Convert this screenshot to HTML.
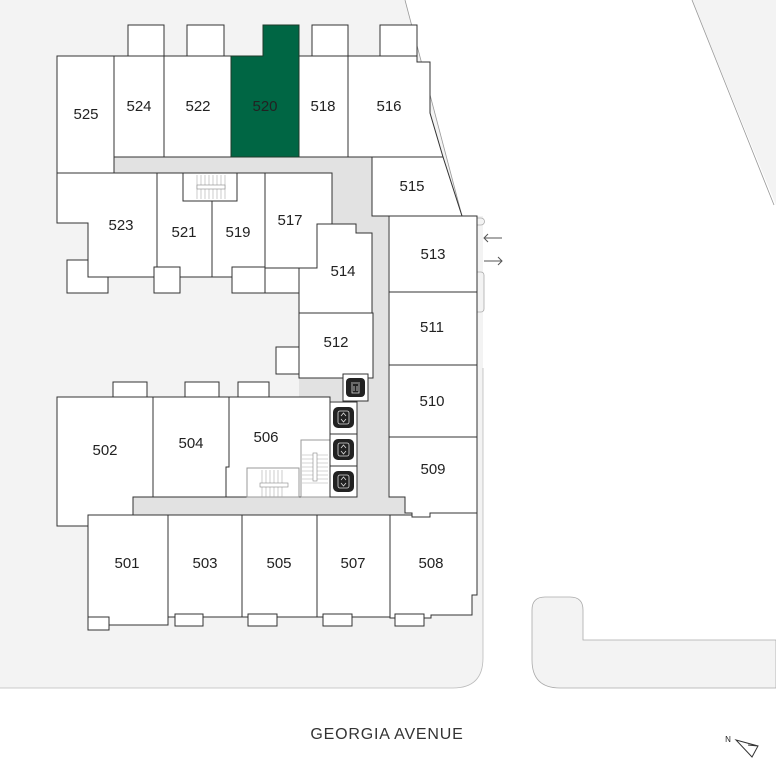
<!DOCTYPE html>
<html><head><meta charset="utf-8"><style>
html,body{margin:0;padding:0;background:#fff;}
svg{display:block;}
text{font-family:"Liberation Sans",sans-serif;font-size:15px;fill:#222;text-anchor:middle;}
</style></head><body>
<svg width="776" height="760" viewBox="0 0 776 760" xmlns="http://www.w3.org/2000/svg">
<!-- grounds -->
<path d="M0,0 H405 L462,216 H483 V658 Q483,688 453,688 H0 Z" fill="#f3f3f3"/>
<path d="M405,0 L462,216" stroke="#999" stroke-width="0.8" fill="none"/>
<path d="M483,368 V658 Q483,688 453,688 H0" stroke="#bbb" stroke-width="0.8" fill="none"/>
<path d="M692,0 H776 V205 Z" fill="#f3f3f3"/>
<path d="M692,0 L774,205" stroke="#999" stroke-width="0.8"/>
<path d="M776,640 H583 V610 Q583,597 570,597 H545 Q532,597 532,610 V660 Q532,688 560,688 H776 Z" fill="#f3f3f3" stroke="#aaa" stroke-width="0.8"/>
<path d="M477,218 h4 a3,3 0 0 1 0,7 h-4" fill="#f3f3f3" stroke="#aaa" stroke-width="0.8"/>
<path d="M477,272 h4 a3,3 0 0 1 3,3 v34 a3,3 0 0 1 -3,3 h-4" fill="#f3f3f3" stroke="#aaa" stroke-width="0.8"/>
<!-- arrows -->
<g stroke="#555" stroke-width="1" fill="none">
<path d="M502,238 H484 M488,234 L484,238 L488,242"/>
<path d="M484,261 H502 M498,257 L502,261 L498,265"/>
</g>
<!-- corridors -->
<g fill="#e2e2e2">
<rect x="114" y="157" width="258" height="16"/>
<rect x="332" y="157" width="56" height="68"/>
<rect x="356" y="157" width="32" height="350"/>
<rect x="133" y="497" width="272" height="18"/>
<rect x="299" y="378" width="44" height="23"/>
<rect x="153" y="481" width="28" height="16"/>
</g>
<g fill="#fff" stroke="#333" stroke-width="1">
<!-- top bumps -->
<rect x="128" y="25" width="36" height="31"/>
<rect x="187" y="25" width="37" height="31"/>
<rect x="312" y="25" width="36" height="31"/>
<rect x="380" y="25" width="37" height="37"/>
<rect x="57" y="56" width="57" height="117"/>
<rect x="114" y="56" width="50" height="101"/>
<rect x="164" y="56" width="67" height="101"/>
<rect x="299" y="56" width="49" height="101"/>
<path d="M348,56 H417 V62 H430 V113 L443,157 H348 Z"/>
<path d="M372,157 H443 L462,216 H372 Z"/>
<!-- middle-left block -->
<rect x="67" y="260" width="41" height="33"/>
<path d="M57,173 H157 V277 H88 V223 H57 Z"/>
<rect x="157" y="173" width="55" height="104"/>
<rect x="212" y="173" width="53" height="104"/>
<rect x="183" y="173" width="54" height="28"/>
<rect x="265" y="173" width="67" height="95"/>
<rect x="154" y="267" width="26" height="26"/>
<rect x="232" y="267" width="33" height="26"/>
<rect x="265" y="268" width="34" height="25"/>
<path d="M317,224 H356 V233 H372 V313 H299 V268 H317 Z"/>
<rect x="299" y="313" width="74" height="65"/>
<rect x="276" y="347" width="23" height="27"/>
<!-- right column -->
<rect x="389" y="216" width="88" height="76"/>
<rect x="389" y="292" width="88" height="73"/>
<rect x="389" y="365" width="88" height="72"/>
<path d="M389,437 H477 V513 H430 V517 H412 V513 H405 V497 H389 Z"/>
<path d="M390,515 H412 V517 H430 V513 H477 V595 H472 V615 H431 V618 H390 Z"/>
<!-- lower left -->
<rect x="113" y="382" width="34" height="27"/>
<rect x="185" y="382" width="34" height="27"/>
<rect x="238" y="382" width="31" height="25"/>
<path d="M57,397 H153 V497 H133 V515 H88 V526 H57 Z"/>
<rect x="153" y="397" width="76" height="100"/>
<path d="M229,397 H330 V497 H226 V467 H229 Z"/>
<rect x="88" y="515" width="80" height="110"/>
<rect x="88" y="617" width="21" height="13"/>
<rect x="168" y="515" width="74" height="102"/>
<rect x="175" y="614" width="28" height="12"/>
<rect x="242" y="515" width="75" height="102"/>
<rect x="248" y="614" width="29" height="12"/>
<rect x="317" y="515" width="73" height="102"/>
<rect x="323" y="614" width="29" height="12"/>
<rect x="395" y="614" width="29" height="12"/>
<!-- stairs -->
<rect x="247" y="468" width="52" height="29" stroke="#999"/>
<rect x="301" y="440" width="29" height="57" stroke="#999"/>
<rect x="330" y="402" width="27" height="32"/>
<rect x="330" y="434" width="27" height="32"/>
<rect x="330" y="466" width="27" height="31"/>
<rect x="343" y="374" width="25" height="27"/>
</g>
<g stroke="#aaa" stroke-width="0.6">
<path d="M197,175 V199 M201,175 V199 M205,175 V199 M209,175 V199 M213,175 V199 M217,175 V199 M221,175 V199 M225,175 V199"/>
<path d="M262,470 V497 M266,470 V497 M270,470 V497 M274,470 V497 M278,470 V497 M282,470 V497"/>
<path d="M302,455 H328 M302,459 H328 M302,463 H328 M302,467 H328 M302,471 H328 M302,475 H328 M302,479 H328 M302,483 H328"/>
</g>
<rect x="197" y="185" width="28" height="4" fill="#fff" stroke="#888" stroke-width="0.6"/>
<rect x="260" y="483" width="28" height="4" fill="#fff" stroke="#888" stroke-width="0.6"/>
<rect x="313" y="453" width="4" height="28" fill="#fff" stroke="#888" stroke-width="0.6"/>
<!-- 520 -->
<path d="M263,25 H299 V157 H231 V56 H263 Z" fill="#006644" stroke="#1e3a2a"/>
<!-- icons -->
<g fill="#222">
<rect x="346" y="378" width="19" height="19" rx="4"/>
<rect x="333" y="407" width="21" height="21" rx="5"/>
<rect x="333" y="439" width="21" height="21" rx="5"/>
<rect x="333" y="471" width="21" height="21" rx="5"/>
</g>
<g stroke="#ddd" stroke-width="0.8" fill="none">
<path d="M351,383 h9 M352,384 v9 h7 v-9 M354,386 v5 M357,386 v5"/>
<rect x="338" y="411" width="11" height="13" rx="2"/>
<rect x="338" y="443" width="11" height="13" rx="2"/>
<rect x="338" y="475" width="11" height="13" rx="2"/>
<path d="M341,416 l2.5,-3 l2.5,3 M341,419 l2.5,3 l2.5,-3 M341,448 l2.5,-3 l2.5,3 M341,451 l2.5,3 l2.5,-3 M341,480 l2.5,-3 l2.5,3 M341,483 l2.5,3 l2.5,-3"/>
</g>
<!-- labels -->
<text x="86" y="119">525</text>
<text x="139" y="111">524</text>
<text x="198" y="111">522</text>
<text x="265" y="111">520</text>
<text x="323" y="111">518</text>
<text x="389" y="111">516</text>
<text x="412" y="191">515</text>
<text x="121" y="230">523</text>
<text x="184" y="237">521</text>
<text x="238" y="237">519</text>
<text x="290" y="225">517</text>
<text x="343" y="276">514</text>
<text x="433" y="259">513</text>
<text x="336" y="347">512</text>
<text x="432" y="332">511</text>
<text x="432" y="406">510</text>
<text x="433" y="474">509</text>
<text x="105" y="455">502</text>
<text x="191" y="448">504</text>
<text x="266" y="442">506</text>
<text x="127" y="568">501</text>
<text x="205" y="568">503</text>
<text x="279" y="568">505</text>
<text x="353" y="568">507</text>
<text x="431" y="568">508</text>
<text x="387" y="739" style="font-size:16px;letter-spacing:0.8px;fill:#333">GEORGIA AVENUE</text>
<text x="728" y="742" style="font-size:8px">N</text>
<path d="M736,740 L758,746 L752,757 Z M748,745 L758,746" fill="none" stroke="#333" stroke-width="1"/>
</svg>
</body></html>
